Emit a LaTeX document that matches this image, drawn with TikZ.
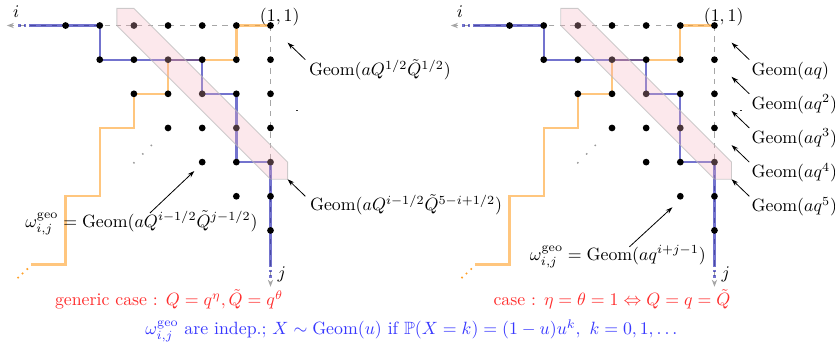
\documentclass[tikz,border=0pt]{standalone}
\usepackage{amsmath,amssymb}
\usetikzlibrary{arrows.meta}
\definecolor{bandpink}{RGB}{245,178,191}
\definecolor{pathblue}{RGB}{0,0,165}
\definecolor{pathorange}{RGB}{255,160,40}
\definecolor{txtred}{RGB}{255,45,45}
\definecolor{txtblue}{RGB}{55,55,255}
\tikzset{
 axisline/.style={gray!70, dashed, line width=0.5pt, -{Stealth[length=4pt,width=3pt]}},
 bluepath/.style={pathblue, draw opacity=0.55, line width=1.3pt, line join=miter},
 orangepath/.style={pathorange, draw opacity=0.6, line width=1.3pt, line join=miter},
 enddots/.style={line width=1.3pt, dash pattern=on 1.4pt off 1.6pt},
 latdot/.style={circle, fill=black, inner sep=0pt, minimum size=3.8pt},
 band/.style={fill=bandpink, fill opacity=0.3, draw=gray!55, draw opacity=0.7, line width=0.5pt},
 ellip/.style={circle, fill=gray!80, inner sep=0pt, minimum size=1.2pt},
 oellip/.style={circle, fill=pathorange, inner sep=0pt, minimum size=1.3pt},
 labarrow/.style={-{Stealth[length=4pt,width=2.6pt]}, line width=0.45pt, black},
 glabel/.style={anchor=base west, inner sep=0pt},
 ctext/.style={anchor=base, inner sep=0pt},
}
\newcommand{\drawpanel}[1]{%
  \foreach \j in {1,...,8} {\foreach \i in {1,...,8} {
    \coordinate (#1-\i-\j) at ({-(\i-1)},{-(\j-1)});}}
  \coordinate (#1-iend) at (-7.72,0);
  \coordinate (#1-jend) at (0,-7.65);
  \coordinate (#1-bend) at (-7.42,0);
  \coordinate (#1-dend) at (0,-7.45);
  \draw[axisline] (#1-1-1) -- (#1-iend);
  \draw[axisline] (#1-1-1) -- (#1-jend);
  \node (#1-ilab) at (-7.45,0.4) {$i$};
  \node (#1-jlab) at (0.33,-7.3) {$j$};
  \node (#1-origin) at (0.27,0.25) {$(1,1)$};
  % orange path
  \draw[orangepath] (#1-1-1) -- (#1-2-1) -- (#1-2-2) -- (#1-4-2) -- (#1-4-3) -- (#1-5-3)
     -- (#1-5-4) -- (#1-6-4) -- (#1-6-6) -- (#1-7-6) -- (#1-7-8) -- (#1-8-8);
  \node[oellip] (#1-o1) at (-7.12,-7.13) {};
  \node[oellip] (#1-o2) at (-7.26,-7.26) {};
  \node[oellip] (#1-o3) at (-7.39,-7.38) {};
  % blue path
  \draw[bluepath] (#1-8-1) -- (#1-6-1) -- (#1-6-2) -- (#1-3-2) -- (#1-3-3) -- (#1-2-3)
     -- (#1-2-5) -- (#1-1-5) -- (#1-1-8);
  \draw[bluepath, enddots] (#1-8-1) -- (#1-bend);
  \draw[bluepath, enddots] (#1-1-8) -- (#1-dend);
  % lattice dots
  \foreach \j in {1,...,7} {
    \pgfmathtruncatemacro{\imax}{8-\j}
    \foreach \i in {1,...,\imax} {
      \node[latdot] (#1-d-\i-\j) at (#1-\i-\j) {};}}
  \node[ellip] (#1-e1) at (-4.0,-4.02) {};
  \node[ellip] (#1-e2) at (-3.74,-3.76) {};
  \node[ellip] (#1-e3) at (-3.49,-3.51) {};
  % band
  \draw[band] (-4.5,0.5) -- (-4,0.5) -- (0.5,-4) -- (0.5,-4.5) -- (0,-4.5) -- (-4.5,0) -- cycle;
  % arrow anchors
  \foreach \k in {1,...,5} {
    \coordinate (#1-at\k) at (1.02,-\k);
    \coordinate (#1-ah\k) at (0.5,-\k+0.5);}
  \coordinate (#1-m1) at (0.76,-2.5);
  \coordinate (#1-m2) at (0.81,-2.5);
  \draw[line width=0.5pt, black!80] (#1-m1) -- (#1-m2);
}
\begin{document}
\begin{tikzpicture}[x=0.675cm,y=0.675cm]
\useasboundingbox (-7.921,-9.268) rectangle (16.530,0.747);
% left panel
\begin{scope}
  \drawpanel{L}
  \draw[labarrow] (L-at1) -- (L-ah1);
  \node[glabel] (L-g1) at (1.12,-1.47) {$\mathrm{Geom}(aQ^{1/2}\tilde{Q}^{1/2})$};
  \draw[labarrow] (L-at5) -- (L-ah5);
  \node[glabel] (L-g5) at (1.15,-5.42) {$\mathrm{Geom}(aQ^{i-1/2}\tilde{Q}^{5-i+1/2})$};
  \coordinate (L-wt) at (-3.53,-5.49);
  \coordinate (L-wh) at (-2.23,-4.26);
  \node[ctext] (L-om) at (-3.78,-5.91) {$\omega^{\mathrm{geo}}_{i,j}=\mathrm{Geom}(aQ^{i-1/2}\tilde{Q}^{j-1/2})$};
  \draw[labarrow] (L-wt) -- (L-wh);
  \node[ctext, text=txtred] (L-case) at (-2.97,-8.21) {generic case : $Q=q^{\eta},\tilde{Q}=q^{\theta}$};
\end{scope}
% right panel
\begin{scope}[shift={(13,0)}]
  \drawpanel{R}
  \draw[labarrow] (R-at1) -- (R-ah1);
  \node[glabel] (R-g1) at (1.08,-1.45) {$\mathrm{Geom}(aq)$};
  \foreach \k in {2,...,5} {
    \draw[labarrow] (R-at\k) -- (R-ah\k);
    \node[glabel] (R-g\k) at (1.08,-\k-0.45) {$\mathrm{Geom}(aq^{\k})$};}
  \coordinate (R-wt) at (-2.49,-6.48);
  \coordinate (R-wh) at (-1.23,-5.32);
  \node[ctext] (R-om) at (-2.83,-6.87) {$\omega^{\mathrm{geo}}_{i,j}=\mathrm{Geom}(aq^{i+j-1})$};
  \draw[labarrow] (R-wt) -- (R-wh);
  \node[ctext, text=txtred] (R-case) at (-3.0,-8.21) {case : $\eta=\theta=1\Leftrightarrow Q=q=\tilde{Q}$};
\end{scope}
\node[ctext, text=txtblue] (foot) at (4.17,-9.06) {$\omega^{\mathrm{geo}}_{i,j}$ are indep.;\ $X\sim\mathrm{Geom}(u)$ if $\mathbb{P}(X=k)=(1-u)u^k,\ k=0,1,\dots$};
\end{tikzpicture}
\end{document}
